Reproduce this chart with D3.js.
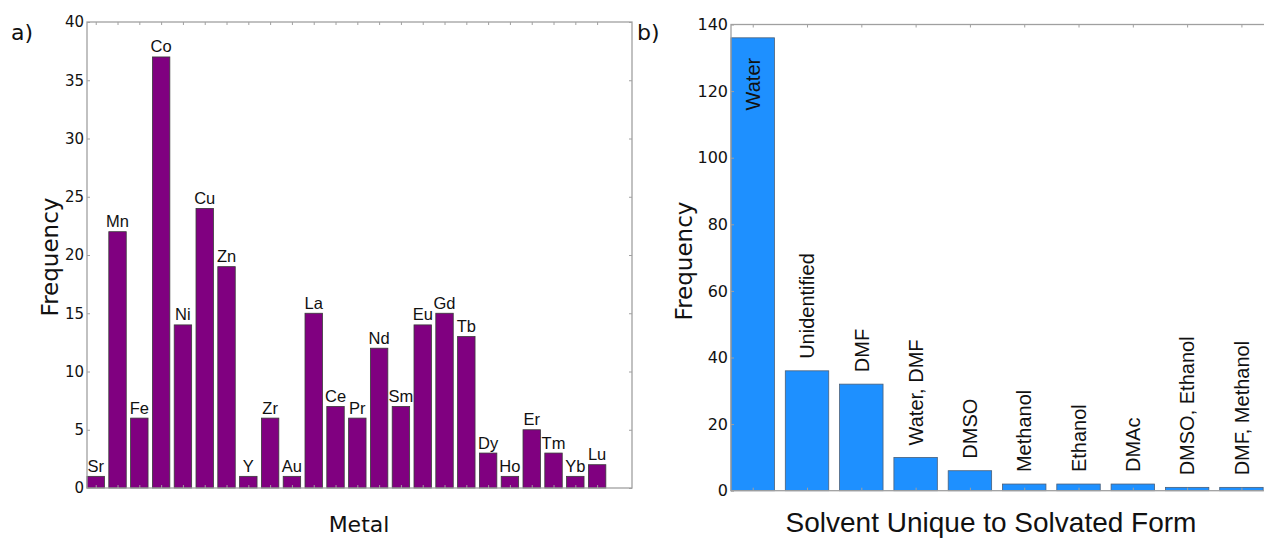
<!DOCTYPE html>
<html>
<head>
<meta charset="utf-8">
<script src="https://cdn.jsdelivr.net/npm/d3@7"></script>
<style>
  body { margin: 0; background: #fff; }
  svg { display: block; }
</style>
</head>
<body>
<svg id="chart" width="1264" height="538"></svg>
<script>
// panel a) metals
const metals = ["Sr", "Mn", "Fe", "Co", "Ni", "Cu", "Zn", "Y", "Zr", "Au", "La", "Ce",
  "Pr", "Nd", "Sm", "Eu", "Gd", "Tb", "Dy", "Ho", "Er", "Tm", "Yb", "Lu"];
const metalCounts = [1, 22, 6, 37, 14, 24, 19, 1, 6, 1, 15, 7,
  6, 12, 7, 14, 15, 13, 3, 1, 5, 3, 1, 2];
const metalTicks = [0, 5, 10, 15, 20, 25, 30, 35, 40];

// panel b) solvents
const solvents = ["Water", "Unidentified", "DMF", "Water, DMF", "DMSO", "Methanol",
  "Ethanol", "DMAc", "DMSO, Ethanol", "DMF, Methanol"];
const solventCounts = [136, 36, 32, 10, 6, 2, 2, 2, 1, 1];
const solventTicks = [0, 20, 40, 60, 80, 100, 120, 140];

const svg = d3.select("#chart");
const frameColor = "#a0a0a0";
const tickFont = "DejaVu Sans, sans-serif";
const labelFont = "Liberation Sans, Arial, sans-serif";

svg.append("rect").attr("width", 1264).attr("height", 538).attr("fill", "#fff");

function drawPanel(opt) {
  const g = svg.append("g");
  const x = d3.scaleLinear().domain([0, opt.xmax]).range([opt.left, opt.right]);
  const y = d3.scaleLinear().domain([0, opt.ymax]).range([opt.bottom, opt.top]);

  // bars
  g.selectAll("rect.bar")
    .data(opt.values)
    .enter()
    .append("rect")
    .attr("class", "bar")
    .attr("x", (d, i) => x(i))
    .attr("width", (d, i) => x(i + 0.8) - x(i))
    .attr("y", d => y(d))
    .attr("height", d => y(0) - y(d))
    .attr("fill", opt.fill)
    .attr("stroke", opt.stroke)
    .attr("stroke-width", 0.8);

  // frame
  g.append("rect")
    .attr("x", opt.left)
    .attr("y", opt.top)
    .attr("width", opt.right - opt.left)
    .attr("height", opt.bottom - opt.top)
    .attr("fill", "none")
    .attr("stroke", frameColor)
    .attr("stroke-width", 1.3);

  // left axis with inward ticks
  const yAxis = g.append("g")
    .attr("transform", `translate(${opt.left},0)`)
    .call(d3.axisLeft(y).tickValues(opt.ticks).tickSize(-3).tickPadding(3));
  yAxis.select(".domain").remove();
  yAxis.selectAll("line").attr("stroke", frameColor);
  yAxis.selectAll("text")
    .attr("font-family", tickFont)
    .attr("font-size", opt.tickSize)
    .attr("fill", "#111");
  yAxis.attr("font-family", null).attr("font-size", null);

  // right axis ticks
  const yAxisR = g.append("g")
    .attr("transform", `translate(${opt.right},0)`)
    .call(d3.axisRight(y).tickValues(opt.ticks).tickSize(-3).tickFormat(""));
  yAxisR.select(".domain").remove();
  yAxisR.selectAll("line").attr("stroke", frameColor);

  // top / bottom ticks at bar centres
  const centres = opt.values.map((d, i) => i + 0.4);
  const xTop = g.append("g")
    .attr("transform", `translate(0,${opt.top})`)
    .call(d3.axisTop(x).tickValues(centres).tickSize(-3).tickFormat(""));
  xTop.select(".domain").remove();
  xTop.selectAll("line").attr("stroke", frameColor);
  const xBot = g.append("g")
    .attr("transform", `translate(0,${opt.bottom})`)
    .call(d3.axisBottom(x).tickValues(centres).tickSize(-3).tickFormat(""));
  xBot.select(".domain").remove();
  xBot.selectAll("line").attr("stroke", frameColor);

  // axis titles
  g.append("text")
    .attr("transform", `translate(${opt.yTitleX},${opt.yTitleY}) rotate(-90)`)
    .attr("text-anchor", "middle")
    .attr("font-family", tickFont)
    .attr("font-size", opt.yTitleSize)
    .attr("fill", "#111")
    .text("Frequency");
  g.append("text")
    .attr("x", opt.xTitleX)
    .attr("y", 532)
    .attr("text-anchor", "middle")
    .attr("font-family", opt.xTitleFont)
    .attr("font-size", opt.xTitleSize)
    .attr("fill", "#111")
    .text(opt.xTitle);

  // panel letter
  g.append("text")
    .attr("x", opt.letterX)
    .attr("y", 40)
    .attr("font-family", tickFont)
    .attr("font-size", 22)
    .attr("fill", "#111")
    .text(opt.letter);

  return { g, x, y };
}

// ---- panel a ----
const a = drawPanel({
  values: metalCounts, ticks: metalTicks, xmax: 25, ymax: 40,
  left: 87, right: 632, top: 22, bottom: 488,
  fill: "#800080", stroke: "#3a3a3a", tickSize: 15,
  yTitleX: 58, yTitleY: 257, yTitleSize: 23,
  xTitle: "Metal", xTitleX: 359, xTitleSize: 22, xTitleFont: tickFont,
  letter: "a)", letterX: 11
});
a.g.selectAll("text.lab")
  .data(metals)
  .enter()
  .append("text")
  .attr("class", "lab")
  .attr("x", (d, i) => a.x(i + 0.4))
  .attr("y", (d, i) => a.y(metalCounts[i]) - 4.5)
  .attr("text-anchor", "middle")
  .attr("font-family", labelFont)
  .attr("font-size", 16.5)
  .attr("fill", "#111")
  .text(d => d);

// ---- panel b ----
const b = drawPanel({
  values: solventCounts, ticks: solventTicks, xmax: 10, ymax: 140,
  left: 731, right: 1274, top: 24.5, bottom: 490.7,
  fill: "#1e90ff", stroke: "#4a5f78", tickSize: 16,
  yTitleX: 692, yTitleY: 261, yTitleSize: 23,
  xTitle: "Solvent Unique to Solvated Form", xTitleX: 991, xTitleSize: 28, xTitleFont: labelFont,
  letter: "b)", letterX: 637
});
b.g.selectAll("text.lab")
  .data(solvents)
  .enter()
  .append("text")
  .attr("class", "lab")
  .attr("transform", (d, i) => {
    const v = solventCounts[i];
    const inside = v > 100;
    const ty = inside ? b.y(v) + 20 : b.y(v) - 12;
    return `translate(${b.x(i + 0.4)},${ty}) rotate(-90)`;
  })
  .attr("text-anchor", (d, i) => solventCounts[i] > 100 ? "end" : "start")
  .attr("dy", "0.36em")
  .attr("font-family", labelFont)
  .attr("font-size", 20)
  .attr("fill", "#111")
  .text(d => d);
</script>
</body>
</html>
